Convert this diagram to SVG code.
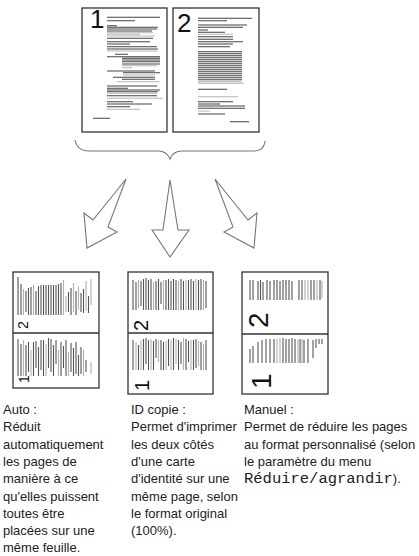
<svg xmlns="http://www.w3.org/2000/svg" width="419" height="556" viewBox="0 0 419 556">
<style>
.pg{fill:#fff;stroke:#333;stroke-width:1.3}
.dk{stroke:#444;stroke-width:1.1;fill:none}
.lt{stroke:#b5b5b5;stroke-width:1.1;fill:none}
.vd{stroke:#555;stroke-width:1.1;fill:none}
.vl{stroke:#b0b0b0;stroke-width:1.1;fill:none}
.num{font-family:"Liberation Sans",Arial,sans-serif;fill:#111}
.arr{fill:#fff;stroke:#777;stroke-width:1.1;stroke-linejoin:miter}
.t{font-family:"Liberation Sans",Arial,sans-serif;font-size:13px;fill:#222}
.m{font-family:"Liberation Mono","Courier New",monospace;font-size:15.5px}
</style>
<rect width="419" height="556" fill="#fff"/>

<g id="page1">
<rect class="pg" x="82" y="8" width="85" height="124"/>
<text class="num" x="90" y="28" font-size="26">1</text>
<path class="dk" d="M107 17.3H160M107 20.7H135M107 25.7H117M107 27.3H158M107 29H157M107 31H152M107 38.3H153M107 41.7H150M107 44H130M107 46.7H157M107 49H158M115 54.3H128M107 56.7H160M122 58.3H160M122 60H160M122 61.7H160M122 64H160M107 71H155M123 72.7H160M113 77.3H155M122 79.3H155M107 86H157M107 88.3H128M107 90H160M107 91.7H158M107 95.7H157M107 101.7H133M107 104H152M107 106.7H130M93 118.3H110"/>
<path class="lt" d="M107 32.7H153M107 34.3H140M107 36H155M107 51H157M122 65.7H157M122 67.7H132M123 75H155M117 81.7H160M107 93.3H157M107 98.3H163M107 109.3H140"/>
</g>

<g id="page2">
<rect class="pg" x="173" y="8" width="86" height="124"/>
<text class="num" x="177" y="32" font-size="26">2</text>
<path class="dk" d="M198 18.3H252M198 20.7H227M198 25H247M198 27.3H243M198 30H208M198 32.3H225M198 36.7H233M198 39.3H233M198 41.7H243M198 44H233M198 46.7H230M198 51.7H242M198 53.7H242M198 55.7H242M198 57.7H242M198 59.7H242M198 61.7H242M198 63.7H242M198 65.7H242M198 67.7H242M198 69.7H242M198 71.7H242M198 73.7H242M198 75.7H242M198 77.7H242M198 79.7H242M198 89.3H227M198 101.7H233M198 104H220M198 106H245M198 108.3H245M198 114H225M230 121.7H249"/>
<path class="lt" d="M198 34.3H233M198 81.7H242M198 83.3H244M198 96.7H238M198 111H210"/>
</g>

<g id="connectors">
<path d="M75 140Q77 151 89 151L158 151Q167 151 170 159Q173 151 182 151L254 151Q264 151 265 141" fill="none" stroke="#777" stroke-width="1.1"/>
<polygon id="arrow-left" class="arr" points="126,179 93,220 84,213 87,248 117,232 108,227"/>
<polygon id="arrow-mid" class="arr" points="170,180 163,230 152,230 170,257 189,230 178,230"/>
<polygon id="arrow-right" class="arr" points="215,179 248,220 257,213 254,248 224,232 233,227"/>
</g>

<g id="auto">
<rect class="pg" x="13" y="272" width="86" height="116"/>
<line x1="13" y1="333" x2="99" y2="333" stroke="#333" stroke-width="1.3"/>
<path class="vd" d="M18 277V315M21 284V315M26 291V312M28.5 288V315M31 287V315M36 291V315M38.5 286V315M41 285V315M43.5 285V315M46 285V315M48.5 285V315M51 285V315M53.5 285V315M56 285V315M58.5 284V315M61 283V315M68.5 292V312M71 288V315M76 291V315M81 293V312M83.5 289V313M88.5 296V313"/>
<path class="vl" d="M23.5 289V315M33.5 285V315M63.5 280V315M66 296V312M73.5 283V312M78.5 286V310M86 281V311M91 279V305"/>
<path class="vd" d="M18 339V376M21 344V376M26 345V376M28.5 342V372M33.5 342V376M36 341V368M38.5 347V376M41 340V370M43.5 340V376M48.5 338V368M51 339V372M53.5 345V376M56 340V364M61 342V376M63.5 346V368M66 340V376M71 343V372M73.5 348V376M76 342V374M78.5 355V376M81 347V374M86 360V372"/>
<path class="vl" d="M23.5 340V376M31 350V376M46 344V376M58.5 350V376M68.5 352V376M83.5 350V376M91 362V374"/>
<text class="num" font-size="14" transform="translate(27.5,329) rotate(-90)">2</text>
<text class="num" font-size="14" transform="translate(28.5,383) rotate(-90)">1</text>
</g>

<g id="idcopy">
<rect class="pg" x="128" y="272" width="85" height="122"/>
<line x1="128" y1="333" x2="213" y2="333" stroke="#333" stroke-width="1.3"/>
<path class="vd" d="M133 280V310M136 282V310M141 281V306M143.5 279V310M146 278V310M148.5 280V310M151 279V310M156 281V310M158.5 279V310M161 282V304M166 280V310M168.5 279V310M171 281V310M173.5 279V310M176 280V310M181 279V310M183.5 281V310M188.5 280V310M191 279V310M193.5 281V310M198.5 280V310M201 279V310M206 281V308"/>
<path class="vl" d="M138.5 280V308M153.5 282V310M163.5 280V310M178.5 281V310M186 280V310M196 279V310M203.5 280V310"/>
<path class="vd" d="M133 340V370M138.5 345V370M143.5 339V370M146 338V364M148.5 340V370M153.5 341V370M156 339V358M161 340V370M163.5 342V370M168.5 339V366M173.5 338V370M178.5 340V370M181 342V364M186 339V370M188.5 341V362M193.5 340V370M196 339V368M201 342V370M206 340V370"/>
<path class="vl" d="M136 342V370M141 340V370M151 339V370M158.5 340V362M166 341V370M171 340V370M176 339V364M183.5 338V370M191 340V370M198.5 341V366M203.5 344V370"/>
<text class="num" font-size="20" transform="translate(148,331) rotate(-90)">2</text>
<text class="num" font-size="20" transform="translate(148.5,391) rotate(-90)">1</text>
</g>

<g id="manual">
<rect class="pg" x="242" y="272" width="86" height="122"/>
<line x1="242" y1="334" x2="328" y2="334" stroke="#333" stroke-width="1.3"/>
<path class="vd" d="M250 280V300M253 280V300M258 281V300M260.5 280V300M263 282V300M267 280V300M270 281V300M274 280V300M277 280V300M280 281V300M283 280V300M286 280V300M289 280V300M292 281V300M299 280V300M302 280V300M311 280V300M314 280V300M320 280V300"/>
<path class="vl" d="M305 280V300M308 280V300M317 280V300M322 281V298"/>
<path class="vd" d="M250 349V363M253 346V363M258 342V363M262 340V363M266 339V363M270 339V363M274 339V363M283 338V363M286 339V363M289 339V363M292 338V363M295 339V363M300 339V363M304 340V363M308 339V363M313 340V358M316 339V348M319 339V344M322 339V344"/>
<path class="vl" d="M277 339V363M280 338V363M298 340V363M302 339V363"/>
<text class="num" font-size="28" transform="translate(268,328) rotate(-90)">2</text>
<text class="num" font-size="28" transform="translate(271,389) rotate(-90)">1</text>
</g>

<g id="text-auto">
<text class="t" x="3" y="414">Auto :</text>
<text class="t" x="3" y="431.3">Réduit</text>
<text class="t" x="3" y="448.6">automatiquement</text>
<text class="t" x="3" y="465.9">les pages de</text>
<text class="t" x="3" y="483.2">manière à ce</text>
<text class="t" x="3" y="500.5">qu'elles puissent</text>
<text class="t" x="3" y="517.8">toutes être</text>
<text class="t" x="3" y="535.1">placées sur une</text>
<text class="t" x="3" y="552.4">même feuille.</text>
</g>
<g id="text-id">
<text class="t" x="131" y="414">ID copie :</text>
<text class="t" x="131" y="431.3">Permet d'imprimer</text>
<text class="t" x="131" y="448.6">les deux côtés</text>
<text class="t" x="131" y="465.9">d'une carte</text>
<text class="t" x="131" y="483.2">d'identité sur une</text>
<text class="t" x="131" y="500.5">même page, selon</text>
<text class="t" x="131" y="517.8">le format original</text>
<text class="t" x="131" y="535.1">(100%).</text>
</g>
<g id="text-manual">
<text class="t" x="244" y="414">Manuel :</text>
<text class="t" x="244" y="431.3">Permet de réduire les pages</text>
<text class="t" x="244" y="448.6">au format personnalisé (selon</text>
<text class="t" x="244" y="465.9">le paramètre du menu</text>
<text class="t" x="244" y="483.2"><tspan class="m">Réduire/agrandir</tspan>).</text>
</g>
</svg>
